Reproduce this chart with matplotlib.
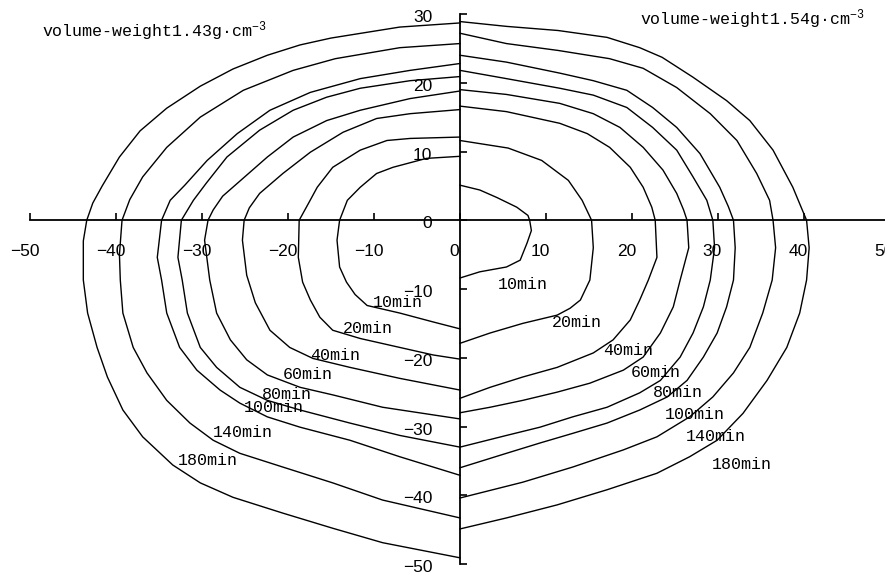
import matplotlib
matplotlib.use('Agg')
import matplotlib.pyplot as plt
import matplotlib.transforms as mtransforms

# ---------------- data ----------------
durations = ['10min', '20min', '40min', '60min', '80min', '100min', '140min', '180min']

# volume-weight 1.43 g/cm3 (left half)
left_10 = [(0, 9.3), (-3.9, 9.0), (-7.8, 7.7), (-9.7, 6.8), (-11.6, 4.8), (-13.1, 2.9), (-14.0, 0),
           (-14.3, -2.9), (-14.0, -6.8), (-13.2, -9.0), (-12.2, -10.8), (-10.8, -12.4), (-7.0, -13.5),
           (-3.1, -14.8), (0, -15.8)]
left_20 = [(0, 12.1), (-5.8, 11.9), (-8.5, 11.6), (-11.6, 10.2), (-14.8, 7.7), (-16.6, 4.8), (-17.6, 2.5),
           (-18.7, 0), (-18.8, -5.4), (-18.3, -9.0), (-17.4, -11.6), (-16.3, -14.1), (-14.8, -16.0),
           (-11.6, -17.2), (-7.0, -18.5), (-3.1, -19.6), (0, -20.2)]
left_40 = [(0, 16.1), (-5.8, 15.5), (-9.7, 14.8), (-13.6, 12.8), (-17.4, 9.9), (-20.6, 6.8), (-23.3, 3.9),
           (-24.5, 1.8), (-25.1, 0), (-25.3, -2.9), (-24.8, -8.0), (-23.8, -12.0), (-22.1, -16.0),
           (-19.8, -18.5), (-17.1, -20.1), (-12.8, -21.4), (-7.0, -23.0), (0, -24.7)]
left_60 = [(0, 18.8), (-5.8, 17.7), (-11.6, 16.0), (-15.5, 14.5), (-19.4, 12.1), (-22.4, 9.2), (-25.5, 5.8),
           (-27.6, 3.5), (-28.7, 1.5), (-29.3, 0), (-29.7, -2.9), (-29.1, -8.7), (-28.3, -13.5),
           (-26.7, -17.4), (-24.8, -20.3), (-22.4, -22.5), (-18.6, -24.3), (-14.8, -25.4), (-9.0, -27.2),
           (0, -28.9)]
left_80 = [(0, 20.9), (-5.8, 20.3), (-11.6, 19.2), (-15.5, 17.9), (-19.4, 16.0), (-23.3, 13.1), (-27.1, 9.2),
           (-29.5, 5.4), (-31.0, 2.9), (-32.4, 0), (-32.8, -5.4), (-32.3, -8.7), (-31.7, -13.5),
           (-30.2, -18.5), (-28.3, -21.4), (-25.6, -24.3), (-22.4, -26.2), (-18.6, -27.6), (-12.8, -29.5),
           (-7.0, -31.3), (0, -33.0)]
left_100 = [(0, 22.8), (-5.8, 21.8), (-11.6, 20.6), (-17.4, 18.6), (-22.1, 16.0), (-25.9, 12.6), (-29.4, 8.7),
            (-32.0, 5.1), (-33.7, 2.9), (-34.7, 0), (-35.2, -5.4), (-34.7, -8.7), (-34.1, -13.5),
            (-32.6, -18.5), (-30.6, -21.8), (-27.9, -24.7), (-25.6, -26.6), (-22.4, -28.6), (-18.6, -30.1),
            (-12.8, -32.0), (-7.0, -34.4), (0, -37.1)]
left_140 = [(0, 25.7), (-7.0, 25.1), (-14.5, 23.5), (-19.4, 21.8), (-25.2, 18.9), (-30.2, 15.0), (-34.1, 10.6),
            (-36.9, 6.3), (-38.4, 3.0), (-39.3, 0), (-39.6, -5.0), (-39.5, -8.7), (-39.2, -13.5),
            (-38.0, -18.5), (-36.4, -22.2), (-34.1, -26.2), (-31.4, -29.5), (-28.7, -32.0), (-25.6, -33.9),
            (-20.6, -35.9), (-14.8, -38.2), (-9.0, -40.7), (0, -43.3)]
left_180 = [(0, 28.7), (-7.0, 28.1), (-11.0, 27.3), (-15.0, 26.5), (-18.6, 25.5), (-22.4, 24.0), (-26.4, 22.0),
            (-30.2, 19.5), (-34.1, 16.3), (-37.2, 13.0), (-39.6, 9.2), (-41.6, 5.0), (-42.7, 2.5), (-43.4, 0),
            (-43.8, -3.0), (-43.8, -8.7), (-43.3, -13.5), (-42.2, -18.5), (-41.0, -22.8), (-39.2, -27.6),
            (-36.9, -31.5), (-33.4, -35.6), (-30.2, -38.2), (-26.4, -40.3), (-20.6, -42.6), (-14.8, -44.8),
            (-9.0, -46.9), (0, -49.1)]

# volume-weight 1.54 g/cm3 (right half)
right_10 = [(0, 5.1), (2.3, 4.4), (4.3, 3.3), (6.6, 1.9), (7.9, 0.7), (8.1, 0), (8.3, -1.5), (7.8, -3.3),
            (7.0, -5.8), (5.4, -6.8), (2.3, -7.5), (0, -8.4)]
right_20 = [(0, 11.6), (5.6, 10.5), (9.5, 8.7), (12.6, 5.8), (14.2, 2.9), (15.3, 0), (15.5, -4.0),
            (15.1, -8.7), (14.0, -11.6), (12.8, -12.8), (11.3, -13.8), (7.3, -15.0), (3.5, -16.4), (0, -17.9)]
right_40 = [(0, 16.6), (5.4, 15.8), (11.6, 14.1), (14.8, 12.6), (17.4, 10.6), (19.8, 7.7), (21.3, 4.8),
            (22.3, 1.9), (22.7, 0), (22.9, -5.4), (21.9, -8.7), (20.9, -11.6), (19.8, -14.5), (17.8, -17.4),
            (15.5, -19.3), (11.3, -21.4), (7.3, -22.8), (3.5, -24.3), (0, -25.9)]
right_60 = [(0, 19.0), (5.4, 18.3), (11.6, 17.0), (15.5, 15.5), (18.6, 13.5), (21.3, 10.6), (23.6, 7.3),
            (25.2, 3.9), (26.0, 1.5), (26.4, 0), (26.6, -4.0), (25.6, -8.7), (24.8, -12.6), (23.3, -16.4),
            (21.3, -19.9), (19.0, -21.8), (15.1, -23.7), (11.3, -25.0), (7.3, -26.2), (3.5, -27.2), (0, -28.0)]
right_80 = [(0, 21.8), (5.4, 20.6), (11.6, 19.2), (15.5, 18.2), (19.4, 16.4), (22.4, 13.5), (25.2, 10.2),
            (27.1, 6.3), (28.7, 2.9), (29.4, 0), (29.6, -4.0), (29.1, -8.7), (28.3, -12.6), (27.1, -16.4),
            (25.6, -19.9), (23.3, -23.3), (20.9, -25.1), (17.1, -27.2), (13.1, -28.6), (9.3, -30.1),
            (5.4, -31.3), (0, -33.0)]
right_100 = [(0, 24.0), (5.4, 23.0), (11.6, 21.4), (15.5, 20.3), (19.4, 18.9), (22.4, 16.4), (25.2, 13.5),
             (27.9, 9.7), (30.2, 4.8), (31.2, 2.0), (31.8, 0), (32.0, -4.0), (31.8, -8.7), (31.0, -12.6),
             (29.9, -16.4), (28.3, -19.9), (26.4, -23.3), (24.1, -25.7), (20.9, -27.6), (17.1, -29.5),
             (13.1, -31.0), (9.3, -32.4), (5.4, -33.9), (0, -36.0)]
right_140 = [(0, 27.2), (5.4, 25.7), (11.4, 24.7), (17.4, 23.5), (21.3, 22.1), (25.2, 19.3), (29.1, 15.5),
             (32.2, 11.6), (34.5, 6.8), (36.0, 2.9), (36.4, 0), (36.7, -4.0), (36.3, -8.7), (35.2, -13.5),
             (33.7, -18.5), (31.8, -22.2), (29.4, -25.7), (26.7, -28.6), (22.9, -31.5), (19.0, -33.4),
             (13.1, -35.9), (7.3, -38.1), (0, -40.4)]
right_180 = [(0, 28.9), (5.4, 28.2), (11.4, 27.6), (17.1, 26.6), (20.9, 25.1), (23.5, 23.7), (27.1, 20.8),
             (31.0, 17.4), (33.7, 14.5), (36.4, 10.2), (38.7, 4.8), (40.3, 0), (40.6, -4.0), (40.3, -8.7),
             (39.5, -13.5), (38.0, -18.5), (35.7, -23.3), (32.9, -28.1), (29.9, -32.0), (26.7, -34.4),
             (22.9, -36.8), (17.1, -39.2), (11.3, -41.4), (5.4, -43.3), (0, -44.9)]

left_curves = [left_10, left_20, left_40, left_60, left_80, left_100, left_140, left_180]
right_curves = [right_10, right_20, right_40, right_60, right_80, right_100, right_140, right_180]

left_label_x = [-7.2, -10.7, -14.5, -17.7, -20.1, -21.6, -25.3, -29.3]
left_label_y = [-11.9, -15.7, -19.6, -22.5, -25.4, -27.2, -30.9, -35.0]
right_label_x = [7.3, 13.6, 19.5, 22.8, 25.3, 27.3, 29.7, 32.8]
right_label_y = [-9.4, -14.9, -18.9, -22.2, -25.1, -28.2, -31.4, -35.5]

x_ticks = [-50, -40, -30, -20, -10, 0, 10, 20, 30, 40, 50]
y_ticks = [-50, -40, -30, -20, -10, 0, 10, 20, 30]

left_title = 'volume-weight1.43g\u00b7cm$^{-3}$'
right_title = 'volume-weight1.54g\u00b7cm$^{-3}$'

# ---------------- style ----------------
plt.rcParams['font.family'] = ['Liberation Sans', 'DejaVu Sans']
plt.rcParams['mathtext.fontset'] = 'custom'
plt.rcParams['mathtext.rm'] = 'Liberation Mono'
plt.rcParams['mathtext.default'] = 'rm'
mono = ['Liberation Mono', 'DejaVu Sans Mono']

fig = plt.figure(figsize=(8.85, 5.75), dpi=100)
fig.patch.set_facecolor('white')
ax = fig.add_axes([30 / 885, 11 / 575, 860 / 885, 550 / 575])
ax.set_xlim(-50, 50)
ax.set_ylim(-50, 30)

for pts in left_curves + right_curves:
    xs = [p[0] for p in pts]
    ys = [p[1] for p in pts]
    ax.plot(xs, ys, color='black', lw=1.0, solid_joinstyle='round')

for name, x, y in zip(durations, left_label_x, left_label_y):
    ax.text(x, y, name, family=mono, fontsize=12, ha='center', va='center')
for name, x, y in zip(durations, right_label_x, right_label_y):
    ax.text(x, y, name, family=mono, fontsize=12, ha='center', va='center')

for side in ['top', 'right']:
    ax.spines[side].set_visible(False)
ax.spines['left'].set_position(('data', 0))
ax.spines['bottom'].set_position(('data', 0))
for side in ['left', 'bottom']:
    ax.spines[side].set_linewidth(1.3)
    ax.spines[side].set_zorder(3)

ax.set_xticks(x_ticks)
ax.set_yticks(y_ticks)
ax.tick_params(direction='in', length=5, width=1.2, labelsize=12.5, colors='black')
ax.tick_params(axis='x', pad=17)
ax.tick_params(axis='y', pad=20)

off_x = mtransforms.ScaledTranslation(-4 / 72, 0, fig.dpi_scale_trans)
for lab in ax.get_xticklabels():
    lab.set_transform(lab.get_transform() + off_x)
off_y = mtransforms.ScaledTranslation(0, -1.5 / 72, fig.dpi_scale_trans)
for lab in ax.get_yticklabels():
    lab.set_transform(lab.get_transform() + off_y)

fig.text(42 / 885, 1 - 37 / 575, left_title, family=mono, fontsize=12, ha='left', va='baseline')
fig.text(640 / 885, 1 - 25 / 575, right_title, family=mono, fontsize=12, ha='left', va='baseline')

fig.savefig('out.png', dpi=100, facecolor='white')
